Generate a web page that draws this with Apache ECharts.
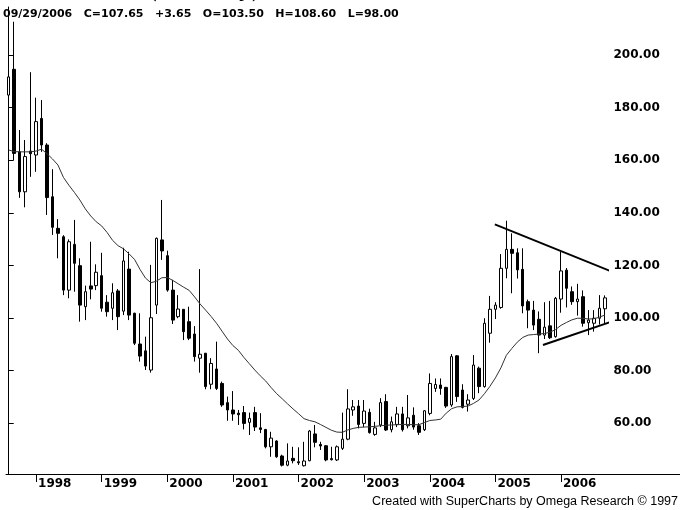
<!DOCTYPE html>
<html>
<head>
<meta charset="utf-8">
<script src="https://cdn.jsdelivr.net/npm/echarts@6/dist/echarts.min.js"></script>
<style>
  html, body { margin: 0; padding: 0; background: #fff; }
  #chart { width: 680px; height: 510px; }
</style>
</head>
<body>
<div id="chart"></div>
<script>
// monthly bars, Aug 1997 .. Sep 2006
var months = [];
for (var y = 1997; y <= 2006; y++) {
  for (var m = 1; m <= 12; m++) {
    if ((y === 1997 && m < 8) || (y === 2006 && m > 9)) continue;
    months.push(y + '-' + (m < 10 ? '0' + m : m));
  }
}

// [open, close, low, high]
var ohlc = [
  [184.8, 191.7, 164.7, 211.5], [194.6, 162.6, 160.1, 212.7], [163.2, 148.0, 145.7, 171.5],
  [148.0, 161.4, 142.1, 167.7], [163.5, 162.5, 153.7, 193.5], [162.0, 174.7, 155.6, 183.8],
  [175.9, 165.8, 163.2, 182.9], [165.8, 145.8, 139.2, 166.5], [146.1, 134.5, 131.6, 156.6],
  [134.1, 132.2, 122.7, 137.6], [130.9, 110.6, 108.7, 131.5], [110.6, 129.0, 107.5, 129.9],
  [128.0, 120.8, 110.0, 137.3], [119.9, 104.9, 98.6, 122.7], [104.3, 110.0, 99.2, 112.3],
  [112.2, 111.0, 107.1, 129.0], [112.3, 117.4, 110.6, 120.4], [116.1, 103.7, 102.4, 124.8],
  [106.0, 102.4, 100.5, 108.7], [103.7, 109.6, 99.2, 113.2], [110.3, 100.5, 95.4, 111.0],
  [102.6, 121.7, 101.1, 126.7], [118.6, 101.1, 99.2, 125.2], [101.8, 90.4, 89.7, 102.0],
  [90.1, 85.5, 83.4, 101.8], [87.5, 81.7, 80.2, 92.9], [80.2, 100.1, 79.2, 120.2],
  [104.9, 130.3, 101.5, 130.6], [129.7, 125.5, 122.1, 144.9], [123.7, 110.6, 110.0, 125.6],
  [110.6, 99.2, 97.7, 114.5], [100.5, 103.4, 99.9, 108.7], [103.3, 94.8, 91.6, 103.3],
  [98.6, 92.3, 91.6, 104.3], [93.9, 85.3, 83.4, 96.9], [84.7, 86.2, 79.2, 118.6],
  [86.6, 73.9, 72.9, 86.6], [74.8, 82.7, 72.9, 84.7], [80.6, 73.2, 72.6, 91.0],
  [75.1, 66.9, 66.2, 75.8], [67.8, 65.0, 60.9, 70.1], [65.0, 63.5, 60.9, 72.2],
  [63.8, 63.2, 59.3, 65.0], [64.0, 59.9, 57.6, 66.5], [60.3, 61.8, 55.5, 64.0],
  [64.0, 58.5, 57.0, 66.2], [58.2, 57.6, 56.2, 63.8], [57.6, 51.0, 50.4, 57.8],
  [51.0, 54.3, 47.2, 56.7], [53.2, 47.2, 46.8, 53.5], [47.5, 44.0, 43.5, 48.0],
  [44.0, 45.6, 43.6, 52.3], [46.6, 45.7, 44.7, 51.0], [45.3, 44.9, 44.1, 50.8],
  [43.8, 45.6, 43.5, 52.9], [45.7, 57.0, 45.5, 57.4], [55.9, 52.7, 50.8, 59.3],
  [51.9, 51.3, 49.8, 52.9], [51.4, 46.0, 45.5, 51.6], [46.5, 46.1, 45.8, 51.0],
  [46.0, 51.0, 45.6, 51.5], [50.4, 53.9, 49.8, 64.0], [53.9, 65.4, 53.5, 72.9],
  [65.0, 66.2, 62.8, 68.8], [66.5, 59.5, 58.0, 68.8], [59.9, 64.6, 58.5, 68.8],
  [64.1, 56.4, 56.0, 65.5], [55.7, 58.2, 55.2, 60.5], [59.3, 67.8, 58.5, 69.5],
  [68.2, 57.4, 57.0, 71.0], [57.5, 60.5, 56.5, 62.5], [59.5, 63.5, 58.5, 66.2],
  [63.5, 57.5, 56.8, 66.2], [59.0, 62.0, 58.0, 70.7], [63.0, 58.5, 57.5, 66.0],
  [59.0, 56.5, 55.5, 60.0], [57.5, 64.7, 57.0, 65.0], [63.7, 75.1, 63.0, 78.9],
  [73.2, 74.7, 71.9, 77.0], [74.5, 73.2, 70.8, 77.0], [73.6, 66.5, 65.8, 73.8],
  [66.9, 85.3, 66.2, 86.3], [85.6, 70.1, 68.1, 85.9], [72.6, 66.0, 65.6, 74.8],
  [67.2, 68.8, 64.4, 71.0], [69.4, 82.1, 68.8, 85.9], [80.9, 73.9, 71.4, 81.5],
  [73.9, 98.0, 73.5, 99.9], [94.2, 103.3, 90.6, 108.4], [103.3, 104.9, 99.6, 106.0],
  [104.0, 118.9, 103.5, 124.3], [118.9, 126.1, 115.1, 137.0], [126.1, 124.6, 109.4, 132.2],
  [124.8, 118.3, 115.0, 126.5], [118.5, 104.6, 101.8, 126.5], [106.2, 103.0, 96.1, 107.0],
  [103.0, 97.3, 95.4, 106.5], [99.5, 93.5, 86.6, 102.5], [93.5, 96.5, 92.0, 106.0],
  [97.0, 92.5, 92.0, 106.5], [92.9, 107.5, 92.5, 108.0], [107.2, 117.9, 102.0, 125.2],
  [118.2, 111.3, 104.0, 119.0], [110.0, 106.2, 105.0, 112.0], [106.2, 107.2, 100.9, 113.0],
  [108.1, 98.0, 96.7, 110.5], [98.2, 99.2, 93.5, 103.0], [98.0, 99.9, 94.8, 103.0],
  [99.9, 103.7, 97.5, 108.7], [103.5, 107.65, 98.0, 108.6]
];

// moving average as drawn on the chart
var avg = [
  163.9, 163.3, 163.2, 163.2, 163.2, 163.5, 164.2, 162.5, 160.5, 158.2,
  153.5, 150.5, 147.8, 144.9, 141.5, 138.8, 136.6, 135.0, 132.5, 129.5,
  127.5, 126.3, 124.4, 122.3, 118.5, 115.2, 113.4, 114.0, 115.3, 115.4,
  114.3, 113.0, 111.7, 110.5, 108.0, 105.3, 103.0, 100.6, 98.0, 95.0,
  92.0, 89.5, 87.7, 85.0, 82.6, 80.2, 78.0, 76.0, 73.5, 71.2,
  69.3, 67.3, 65.4, 63.6, 61.7, 61.0, 60.5, 59.5, 58.4, 57.3,
  56.6, 56.5, 57.4, 58.0, 58.4, 58.5, 58.6, 58.8, 59.0, 59.2,
  59.3, 59.4, 59.5, 59.5, 59.4, 59.4, 60.2, 61.0, 61.2, 61.5,
  63.8, 65.5, 66.2, 66.3, 66.5, 67.5, 68.8, 71.2, 74.0, 77.2,
  81.0, 85.8, 88.4, 90.8, 92.6, 93.5, 93.7, 93.9, 94.1, 94.6,
  95.6, 97.2, 98.3, 99.3, 99.9, 99.9, 99.6, 99.7, 100.3, 101.1
];

// triangle trendlines, [bar index, price]
var upperTrend = [[88.9, 135.6], [110.8, 117.2]];
var lowerTrend = [[97.7, 89.7], [110.8, 99.0]];

var priceTicks = [60, 80, 100, 120, 140, 160, 180, 200];

var header = '09/29/2006   C=107.65   +3.65   O=103.50   H=108.60   L=98.00';
var footer = 'Created with SuperCharts by Omega Research \u00a9 1997';

function isJanuary(index, value) {
  return value.slice(5) === '01';
}

var chart = echarts.init(document.getElementById('chart'), null, { renderer: 'canvas' });

var option = {
  animation: false,
  backgroundColor: '#fff',
  textStyle: { fontFamily: '"DejaVu Sans", sans-serif' },
  grid: { left: 6, right: 72.5, top: 7, bottom: 36 },
  xAxis: [
    {
      type: 'category',
      data: months,
      boundaryGap: true,
      position: 'bottom',
      splitLine: { show: false },
      axisLine: { show: true, onZero: false, lineStyle: { color: '#000', width: 1 } },
      axisTick: {
        show: true,
        alignWithLabel: true,
        interval: isJanuary,
        length: 8,
        lineStyle: { color: '#000' }
      },
      axisLabel: {
        interval: isJanuary,
        align: 'left',
        margin: 4,
        padding: [0, 0, 0, 2],
        color: '#000',
        fontWeight: 'bold',
        fontSize: 12,
        formatter: function (v) { return v.slice(0, 4); }
      }
    },
    {
      type: 'value',
      show: false,
      min: -0.5,
      max: 109.5
    }
  ],
  yAxis: {
    type: 'value',
    position: 'right',
    offset: 5,
    min: 40.65,
    max: 218.3,
    splitLine: { show: false },
    axisLine: { show: true, lineStyle: { color: '#000', width: 1 } },
    axisTick: { show: true, customValues: priceTicks, length: 5, lineStyle: { color: '#000' } },
    axisLabel: {
      customValues: priceTicks,
      margin: 1,
      color: '#000',
      fontWeight: 'bold',
      fontSize: 12,
      formatter: function (v) { return v.toFixed(2); }
    }
  },
  series: [
    {
      type: 'candlestick',
      xAxisIndex: 0,
      data: ohlc,
      barWidth: 3,
      itemStyle: {
        color: '#fff',
        color0: '#000',
        borderColor: '#000',
        borderColor0: '#000',
        borderWidth: 1
      }
    },
    {
      type: 'line',
      xAxisIndex: 0,
      data: avg,
      symbol: 'none',
      lineStyle: { color: '#333', width: 1 },
      z: 3
    },
    {
      type: 'line',
      xAxisIndex: 1,
      data: upperTrend,
      symbol: 'none',
      clip: false,
      lineStyle: { color: '#000', width: 2 },
      z: 4
    },
    {
      type: 'line',
      xAxisIndex: 1,
      data: lowerTrend,
      symbol: 'none',
      clip: false,
      lineStyle: { color: '#000', width: 2 },
      z: 4
    }
  ],
  graphic: [
    {
      type: 'text',
      left: 148,
      top: -24,
      style: { text: '(Monthly)', font: 'bold 26px "Liberation Serif", serif', fill: '#000' }
    },
    {
      type: 'text',
      left: 3,
      top: 9,
      style: { text: header, font: 'bold 11px "DejaVu Sans", sans-serif', fill: '#000' }
    },
    {
      type: 'line',
      shape: { x1: 607, y1: 474.5, x2: 680, y2: 474.5 },
      style: { stroke: '#000', lineWidth: 1 }
    },
    {
      type: 'text',
      right: 2,
      top: 495,
      style: { text: footer, font: '12.5px "Liberation Sans", sans-serif', fill: '#000' }
    }
  ]
};

chart.setOption(option);
</script>
</body>
</html>
